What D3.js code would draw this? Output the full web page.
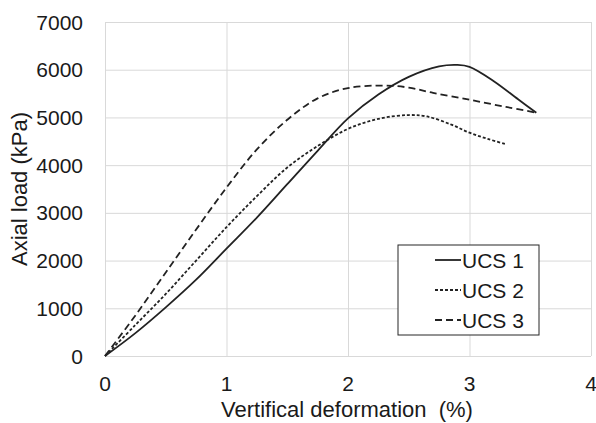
<!DOCTYPE html>
<html>
<head>
<meta charset="utf-8">
<script src="https://cdn.jsdelivr.net/npm/d3@7"></script>
<style>
  body { margin: 0; background: #fff; }
  text { font-family: "Liberation Sans", Arial, sans-serif; fill: #1a1a1a; }
</style>
</head>
<body>
<svg id="chart" width="596" height="423"></svg>
<script>
// values: [deformation %, axial load kPa]
var ucs1 = [[0,0],[0.25,480],[0.5,1020],[0.75,1600],[1,2250],[1.25,2900],[1.5,3600],[1.75,4300],[2,4980],[2.25,5480],[2.5,5850],[2.75,6070],[2.9,6100],[3,6060],[3.2,5760],[3.4,5380],[3.55,5100]];
var ucs2 = [[0,0],[0.25,650],[0.5,1300],[0.75,2000],[1,2700],[1.25,3350],[1.5,3950],[1.75,4400],[2,4760],[2.25,4970],[2.5,5050],[2.65,5020],[2.85,4850],[3,4680],[3.15,4550],[3.3,4440]];
var ucs3 = [[0,0],[0.25,850],[0.5,1750],[0.75,2650],[1,3530],[1.25,4330],[1.5,4950],[1.75,5400],[2,5615],[2.3,5668],[2.5,5625],[2.7,5515],[3,5370],[3.3,5220],[3.55,5100]];
var seriesNames = ["UCS 1", "UCS 2", "UCS 3"];
var xTicks = [0, 1, 2, 3, 4];
var yTicks = [0, 1000, 2000, 3000, 4000, 5000, 6000, 7000];

var svg = d3.select("#chart");
var mLeft = 105, mRight = 591, mTop = 22, mBottom = 356;
var fs = "21px";

var x = d3.scaleLinear().domain([0, 4]).range([mLeft, mRight]);
var y = d3.scaleLinear().domain([0, 7000]).range([mBottom, mTop]);

// gridlines
svg.append("g")
  .attr("transform", "translate(0," + mBottom + ")")
  .call(d3.axisBottom(x).tickValues(xTicks).tickSize(-(mBottom - mTop)).tickFormat(""))
  .call(function(g) { g.select(".domain").remove(); })
  .selectAll("line").attr("stroke", "#d9d9d9");
svg.append("g")
  .attr("transform", "translate(" + mLeft + ",0)")
  .call(d3.axisLeft(y).tickValues(yTicks).tickSize(-(mRight - mLeft)).tickFormat(""))
  .call(function(g) { g.select(".domain").remove(); })
  .selectAll("line").attr("stroke", "#d9d9d9");

// tick labels
svg.append("g").selectAll("text")
  .data(xTicks).enter().append("text")
  .attr("x", function(d) { return x(d); })
  .attr("y", 391)
  .attr("text-anchor", "middle")
  .style("font-size", fs)
  .text(function(d) { return d; });
svg.append("g").selectAll("text")
  .data(yTicks).enter().append("text")
  .attr("x", 83)
  .attr("y", function(d) { return y(d) + 7.5; })
  .attr("text-anchor", "end")
  .style("font-size", fs)
  .text(function(d) { return d; });

// axis titles
svg.append("text")
  .attr("x", 347).attr("y", 417)
  .attr("text-anchor", "middle")
  .style("font-size", "22px")
  .style("white-space", "pre")
  .text("Vertifical deformation  (%)");
svg.append("text")
  .attr("transform", "translate(27,189) rotate(-90)")
  .attr("text-anchor", "middle")
  .style("font-size", "22px")
  .text("Axial load (kPa)");

// curves
var line = d3.line()
  .x(function(d) { return x(d[0]); })
  .y(function(d) { return y(d[1]); })
  .curve(d3.curveCatmullRom);

var dashes = ["none", "3,2", "7,4"];
[ucs1, ucs2, ucs3].forEach(function(s, i) {
  svg.append("path")
    .datum(s)
    .attr("d", line)
    .attr("fill", "none")
    .attr("stroke", "#222")
    .attr("stroke-width", 1.8)
    .attr("stroke-dasharray", dashes[i]);
});

// legend
var lg = svg.append("g");
lg.append("rect")
  .attr("x", 398).attr("y", 245).attr("width", 141).attr("height", 90)
  .attr("fill", "#fff").attr("stroke", "#262626").attr("stroke-width", 1);
seriesNames.forEach(function(n, i) {
  var cy = 260 + i * 30;
  lg.append("line")
    .attr("x1", 435).attr("x2", 461).attr("y1", cy).attr("y2", cy)
    .attr("stroke", "#222").attr("stroke-width", 1.8)
    .attr("stroke-dasharray", dashes[i]);
  lg.append("text")
    .attr("x", 462).attr("y", cy + 7.5)
    .style("font-size", fs)
    .text(n);
});
</script>
</body>
</html>
